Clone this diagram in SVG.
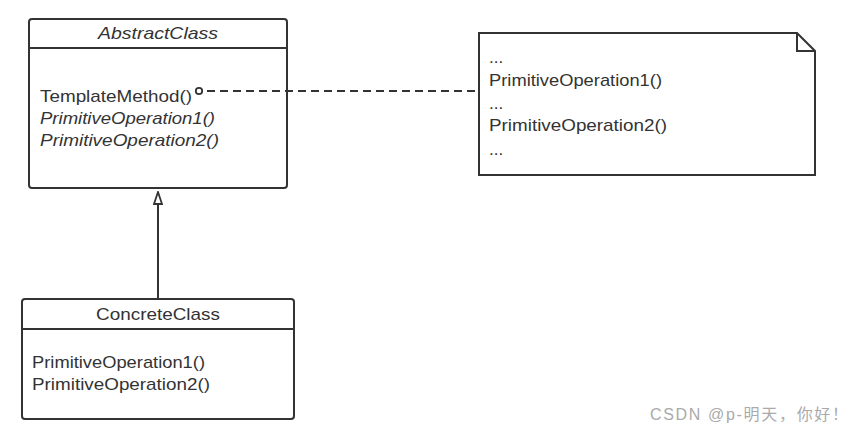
<svg xmlns="http://www.w3.org/2000/svg" width="865" height="434" viewBox="0 0 865 434">
<style>
.box{fill:#fff;stroke:#333;stroke-width:2}
.sep{stroke:#333;stroke-width:2}
.t{font-family:"Liberation Sans",Arial,sans-serif;font-size:17px;fill:#333}
.i{font-style:italic}
.c{text-anchor:middle}
.edge{stroke:#333;stroke-width:2;fill:none}
.wm{font-family:"Liberation Sans","Noto Sans CJK SC",sans-serif;font-size:16px;fill:#aaa}
</style>
<defs>
<marker id="tri" markerWidth="14" markerHeight="10" refX="13" refY="5" orient="auto" markerUnits="userSpaceOnUse" viewBox="0 0 14 10">
<path d="M1,1 L13,5 L1,9 Z" fill="#fff" stroke="#333" stroke-width="1.8"/>
</marker>
</defs>
<rect width="865" height="434" fill="#fff"/>
<g id="AbstractClass">
<rect class="box" x="29" y="19" width="258" height="169" rx="3"/>
<line class="sep" x1="29" y1="48" x2="287" y2="48"/>
<text class="t i c" x="158" y="39" textLength="120" lengthAdjust="spacingAndGlyphs">AbstractClass</text>
<text class="t" x="40" y="102" textLength="152" lengthAdjust="spacingAndGlyphs">TemplateMethod()</text>
<text class="t i" x="40" y="124" textLength="175" lengthAdjust="spacingAndGlyphs">PrimitiveOperation1()</text>
<text class="t i" x="40" y="146" textLength="179" lengthAdjust="spacingAndGlyphs">PrimitiveOperation2()</text>
</g>
<g id="Note">
<path class="box" d="M479,33 L797,33 L815,51 L815,175 L479,175 Z"/>
<path class="edge" d="M797,33 L797,51 L815,51"/>
<text class="t" x="489" y="63">...</text>
<text class="t" x="489" y="86" textLength="173" lengthAdjust="spacingAndGlyphs">PrimitiveOperation1()</text>
<text class="t" x="489" y="109">...</text>
<text class="t" x="489" y="131" textLength="178" lengthAdjust="spacingAndGlyphs">PrimitiveOperation2()</text>
<text class="t" x="489" y="155">...</text>
</g>
<g id="ConcreteClass">
<rect class="box" x="22" y="299" width="272" height="120" rx="3"/>
<line class="sep" x1="22" y1="329" x2="294" y2="329"/>
<text class="t c" x="158" y="320" textLength="124" lengthAdjust="spacingAndGlyphs">ConcreteClass</text>
<text class="t" x="32" y="368" textLength="173" lengthAdjust="spacingAndGlyphs">PrimitiveOperation1()</text>
<text class="t" x="32" y="390" textLength="178" lengthAdjust="spacingAndGlyphs">PrimitiveOperation2()</text>
</g>
<g id="connectors">
<line class="edge" x1="158" y1="299" x2="158" y2="192" marker-end="url(#tri)"/>
<line class="edge" x1="207" y1="91" x2="479" y2="91" stroke-dasharray="8,5"/>
<circle cx="199" cy="91" r="3.2" fill="#fff" stroke="#333" stroke-width="1.8"/>
</g>
<text class="wm" x="650" y="420" textLength="198" lengthAdjust="spacing">CSDN @p-明天，你好！</text>
</svg>
